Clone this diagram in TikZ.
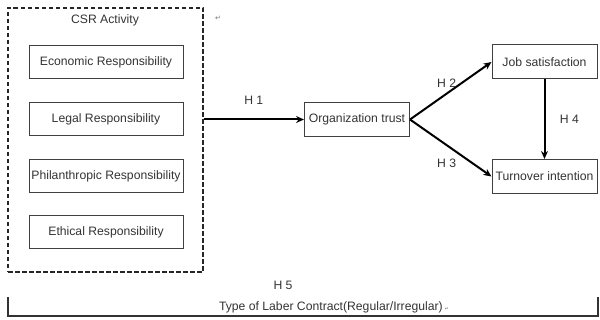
\documentclass[tikz,border=0pt]{standalone}
\usepackage{fontspec}
\setmainfont{Liberation Sans}
\newfontfamily\symfont{DejaVu Sans}
\usetikzlibrary{positioning,arrows.meta}

\begin{document}
\begin{tikzpicture}[x=1pt,y=-1pt,
resp/.style={draw=black!75, line width=1pt, minimum width=154pt, minimum height=33pt, inner sep=0pt, font=\fontsize{12.2}{13}\selectfont, text=black!80},
var/.style={draw=black!75, line width=1pt, minimum width=105pt, minimum height=34pt, inner sep=0pt, font=\fontsize{12.2}{13}\selectfont, text=black!80},
hyp/.style={font=\fontsize{12.2}{13}\selectfont, text=black!80},
hypline/.style={line width=2pt, -{Stealth[length=8pt,width=7pt]}},
retmark/.style={font=\symfont\fontsize{7}{7}\selectfont, text=black!55}]

\useasboundingbox (0,0) rectangle (600,320);

% CSR activity
\node[draw=black!85, dash pattern=on 4.5pt off 2.5pt, line width=1.1pt, minimum width=195pt, minimum height=264pt] (CSR) at (105.5,140) {};
\node[hyp] (CSRlabel) at (105,20) {CSR Activity};
\node[retmark] (ret) at (218,18) {↵};

\node[resp] (Economic) at (106,62.5) {Economic Responsibility};
\node[resp] (Legal) at (106,119) {Legal Responsibility};
\node[resp] (Philanthropic) at (106,176.5) {Philanthropic Responsibility};
\node[resp] (Ethical) at (106,232.5) {Ethical Responsibility};

% variables
\node[var] (Trust) at (357,119.5) {Organization trust};
\node[var] (Job) at (544.5,62) {Job satisfaction};
\node[var] (Turnover) at (544.5,176.5) {Turnover intention};

\draw[hypline] (CSR.east |- Trust.west) -- node[hyp, above=11pt] {H 1} (Trust.west);
\draw[hypline] (Trust.east) -- node[hyp, pos=0.45, above=2pt] {H 2} (Job.west);
\draw[hypline] (Trust.east) -- node[hyp, pos=0.45, below=10pt] {H 3} (Turnover.west);
\draw[hypline] (Job.south) -- node[hyp, right=11pt] {H 4} (Turnover.north);

% moderator
\node[hyp] (H5) at (283,285) {H 5};
\node[hyp] (Contract) at (334,307) {Type of Laber Contract(Regular/Irregular)\,{\symfont\fontsize{5}{5}\selectfont\color{black!55}↵}};
\coordinate (left) at (8,297);
\coordinate (right) at (598,297);
\draw[line width=1.6pt, black!80] (left) -- ++(0,19) -| (right);

\end{tikzpicture}
\end{document}
